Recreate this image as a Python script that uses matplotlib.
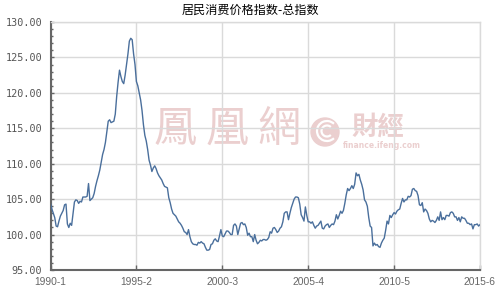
import matplotlib
matplotlib.use("Agg")
import matplotlib.pyplot as plt
from matplotlib.patches import Ellipse, Arc
from matplotlib.ticker import MultipleLocator, FormatStrFormatter

# monthly CPI (same month of previous year = 100), 1990-1 .. 2015-6
cpi_1990_1994 = [
    104.4, 103.6, 103.0, 102.4, 101.2, 101.1, 101.9, 102.6, 103.0, 103.4, 104.2, 104.3,
    101.5, 101.0, 101.6, 101.3, 103.0, 104.6, 104.9, 104.8, 104.4, 104.7, 104.6, 105.3,
    105.3, 105.3, 105.4, 107.2, 104.8, 105.0, 105.2, 105.8, 106.8, 107.6, 108.3, 109.1,
    110.2, 111.3, 112.0, 113.0, 114.5, 116.0, 116.2, 115.8, 115.9, 116.0, 117.0, 119.5,
    121.5, 123.2, 122.3, 121.6, 121.3, 122.5, 124.0, 125.5, 127.3, 127.7, 127.5, 125.5,
]
cpi_1995_1999 = [
    124.0, 121.6, 121.0, 120.0, 119.0, 117.5, 115.5, 114.0, 113.2, 112.0, 110.5, 109.8,
    108.9, 109.4, 109.7, 109.3, 108.7, 108.3, 108.0, 107.7, 107.2, 106.8, 106.7, 106.6,
    105.2, 104.5, 103.6, 103.0, 102.8, 102.6, 102.2, 101.8, 101.6, 101.3, 100.9, 100.4,
    100.3, 100.0, 100.7, 99.7, 99.0, 98.7, 98.6, 98.6, 98.5, 98.9, 98.8, 99.0,
    98.8, 98.7, 98.2, 97.8, 97.8, 97.9, 98.6, 98.7, 99.2, 99.4, 99.1, 99.0,
]
cpi_2000_2004 = [
    99.8, 100.7, 99.8, 99.7, 100.1, 100.5, 100.5, 100.3, 100.0, 100.0, 101.3, 101.5,
    101.2, 100.0, 100.8, 101.6, 101.7, 101.4, 101.5, 101.0, 99.9, 100.2, 99.7, 99.7,
    99.0, 100.0, 99.2, 98.7, 98.9, 99.2, 99.1, 99.3, 99.3, 99.2, 99.3, 99.6,
    100.4, 100.2, 100.9, 101.0, 100.7, 100.3, 100.5, 100.9, 101.1, 101.8, 103.0, 103.2,
    103.2, 102.1, 103.0, 103.8, 104.4, 105.0, 105.3, 105.3, 105.2, 104.3, 102.8, 102.4,
]
cpi_2005_2009 = [
    101.9, 103.9, 102.7, 101.8, 101.8, 101.6, 101.8, 101.3, 100.9, 101.2, 101.3, 101.6,
    101.9, 100.9, 100.8, 101.2, 101.4, 101.5, 101.0, 101.3, 101.5, 101.4, 101.9, 102.8,
    102.2, 102.7, 103.3, 103.0, 103.4, 104.4, 105.6, 106.5, 106.2, 106.5, 106.9, 106.5,
    107.1, 108.7, 108.3, 108.5, 107.7, 107.1, 106.3, 104.9, 104.6, 104.0, 102.4, 101.2,
    101.0, 98.4, 98.8, 98.5, 98.6, 98.3, 98.2, 98.8, 99.2, 99.5, 100.6, 101.9,
]
cpi_2010_2015 = [
    101.5, 102.7, 102.4, 102.8, 103.1, 102.9, 103.3, 103.5, 103.6, 104.4, 105.1, 104.6,
    104.9, 104.9, 105.4, 105.3, 105.5, 106.4, 106.5, 106.2, 106.1, 105.5, 104.2, 104.1,
    104.5, 103.2, 103.6, 103.4, 103.0, 102.2, 101.8, 102.0, 101.9, 101.7, 102.0, 102.5,
    102.0, 103.2, 102.1, 102.4, 102.1, 102.7, 102.7, 102.6, 103.1, 103.2, 103.0, 102.5,
    102.5, 102.0, 102.4, 101.8, 102.5, 102.3, 102.3, 102.0, 101.6, 101.6, 101.4, 101.5,
    100.8, 101.4, 101.4, 101.5, 101.2, 101.4,
]
tick_labels = ["1990-1", "1995-2", "2000-3", "2005-4", "2010-5", "2015-6"]
tick_months = [0, 61, 122, 183, 244, 305]

cpi = cpi_1990_1994 + cpi_1995_1999 + cpi_2000_2004 + cpi_2005_2009 + cpi_2010_2015
months = list(range(len(cpi)))

fig = plt.figure(figsize=(5, 3), dpi=100)
ax = fig.add_axes([0.101, 0.1, 0.859, 0.8267])

pink = "#ebcfcf"
# watermark
for ch, xp in zip("鳳凰網", [175, 227, 279]):
    ax.text(xp / 500, 1 - 130 / 300, ch, transform=fig.transFigure, fontsize=31,
            family="Noto Sans CJK TC", color=pink, ha="center", va="center", zorder=0.5)
ax.add_patch(Ellipse((325 / 500, 1 - 132 / 300), 28 / 500, 28 / 300, transform=fig.transFigure,
                     color=pink, zorder=0.5))
for r in [10, 5.5]:
    ax.add_patch(Arc((327 / 500, 1 - 131 / 300), 2 * r / 500, 2 * r / 300, theta1=60, theta2=300,
                     transform=fig.transFigure, color="white", lw=1.6, zorder=0.6))
ax.text(378 / 500, 1 - 127 / 300, "財經", transform=fig.transFigure, fontsize=19,
        family="Noto Sans CJK TC", weight="bold", color=pink, ha="center", va="center", zorder=0.5)
ax.text(382 / 500, 1 - 146 / 300, "finance.ifeng.com", transform=fig.transFigure, fontsize=5.5,
        weight="bold", color=pink, ha="center", va="center", zorder=0.5)

ax.plot(months, cpi, color="#4a6f9c", lw=1, zorder=3)

ax.set_xlim(0, 305)
ax.set_ylim(95, 130)
ax.set_xticks(tick_months)
ax.set_xticklabels(tick_labels, family="Liberation Sans", fontsize=7.4, color="#666666")
ax.yaxis.set_major_locator(MultipleLocator(5))
ax.yaxis.set_minor_locator(MultipleLocator(1))
ax.yaxis.set_major_formatter(FormatStrFormatter("%.2f"))
for lab in ax.get_yticklabels():
    lab.set_family("DejaVu Sans Mono")
    lab.set_fontsize(7.3)
    lab.set_color("#555555")

ax.tick_params(axis="x", direction="in", length=3.6, width=1, color="#666666", pad=5)
ax.tick_params(axis="y", which="major", direction="in", length=2.2, width=1, color="#666666", pad=6)
ax.tick_params(axis="y", which="minor", direction="in", length=1.6, width=1, color="#666666")
ax.grid(True, color="#dadada", lw=1, zorder=1)

for s in ["left", "bottom"]:
    ax.spines[s].set_color("#666666")
    ax.spines[s].set_linewidth(1.5)
for s in ["top", "right"]:
    ax.spines[s].set_color("#dadada")
    ax.spines[s].set_linewidth(1)

fig.text(0.5, 1 - 10 / 300, "居民消费价格指数-总指数", family=["Noto Sans CJK SC", "DejaVu Sans"],
         fontsize=8.7, ha="center", va="center", color="black")

fig.savefig("out.png", dpi=100)
